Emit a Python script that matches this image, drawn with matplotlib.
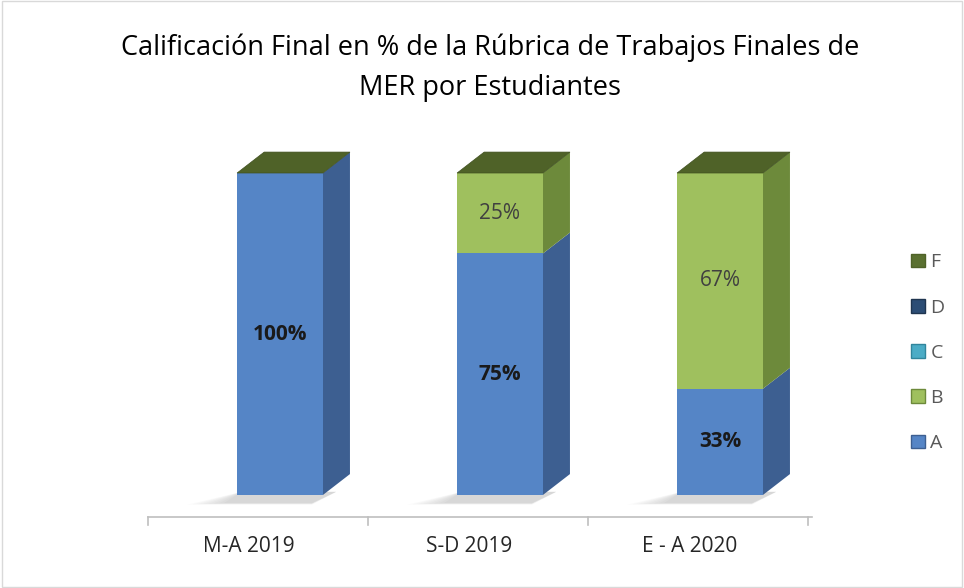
import numpy as np
import matplotlib.pyplot as plt
from matplotlib.patches import Polygon, Patch

plt.rcParams['font.family'] = ['Open Sans', 'DejaVu Sans']

# ========== 数据 ==========
categorias = ['M-A 2019', 'S-D 2019', 'E - A 2020']
series = ['A', 'B', 'C', 'D', 'F']
val_A = [100, 75, 33]
val_B = [0, 25, 67]
val_C = [0, 0, 0]
val_D = [0, 0, 0]
val_F = [0, 0, 0]
valores = [val_A, val_B, val_C, val_D, val_F]

# colores: cara frontal, cara lateral
frente = {'A': '#5585c6', 'B': '#9fc05e', 'C': '#4bacc6', 'D': '#2c4d75', 'F': '#5a7030'}
lado = {'A': '#3d5f91', 'B': '#6d8a3b', 'C': '#31859c', 'D': '#1f3550', 'F': '#4f6228'}
color_tapa = '#4f6228'

# ========== 几何 (3D falso) ==========
ancho = 0.39
dx, dy = 0.123, 6.5   # profundidad

fig = plt.figure(figsize=(9.64, 5.88), dpi=100)
ax = fig.add_axes([0, 0, 1, 1])
ax.set_xlim(-280 / 220, -280 / 220 + 964 / 220)
ax.set_ylim(-93 / 3.22, 100 + 173 / 3.22)
ax.axis('off')

x = np.arange(len(categorias))
base = np.zeros(len(categorias))

# sombra suave bajo cada barra
for xi in x:
    for k in range(8):
        s = 0.012 * k
        sombra = Polygon([(xi - ancho / 2 - 0.06 - s * 2, -2.5 - s * 6),
                          (xi + ancho / 2 - 0.05, -2.5 - s * 6),
                          (xi + ancho / 2 + dx * 0.5, 1),
                          (xi - ancho / 2 + 0.02, 1)],
                         closed=True, facecolor='#000000', alpha=0.018, lw=0, zorder=1)
        ax.add_patch(sombra)

for nombre, vals in zip(series, valores):
    vals = np.array(vals, dtype=float)
    ax.bar(x, vals, bottom=base, width=ancho, color=frente[nombre], lw=0, zorder=3)
    for xi, b, v in zip(x, base, vals):
        if v <= 0:
            continue
        xr = xi + ancho / 2
        ax.add_patch(Polygon([(xr, b), (xr + dx, b + dy), (xr + dx, b + v + dy), (xr, b + v)],
                             closed=True, facecolor=lado[nombre], lw=0, zorder=2))
    base = base + vals

# tapa superior (serie F)
for xi, t in zip(x, base):
    xl, xr = xi - ancho / 2, xi + ancho / 2
    ax.add_patch(Polygon([(xl, t), (xr, t), (xr + dx, t + dy), (xl + dx, t + dy)],
                         closed=True, facecolor=color_tapa, edgecolor='#3f4f1f', lw=0.5, zorder=4))

# etiquetas de datos
base = np.zeros(len(categorias))
for nombre, vals in zip(series, valores):
    for xi, b, v in zip(x, base, vals):
        if v <= 0:
            continue
        if nombre == 'A':
            ax.text(xi, b + v / 2, f'{v}%', ha='center', va='center', fontsize=15,
                    fontweight='bold', color='#1a1a1a', zorder=5)
        else:
            ax.text(xi, b + v / 2, f'{v}%', ha='center', va='center', fontsize=15,
                    color='#404040', zorder=5)
    base = base + np.array(vals)

# eje de categorías
y_eje = -6.8
ax.plot([-0.6, 2.42], [y_eje, y_eje], color='#bfbfbf', lw=1.2, zorder=1)
for t in np.arange(len(categorias) + 1) - 0.6:
    ax.plot([t, t], [y_eje, y_eje - 2.6], color='#bfbfbf', lw=1.2, zorder=1)
for xi, c in zip(x, categorias):
    ax.text(xi - 0.14, -16, c, ha='center', va='center', fontsize=15, color='#262626')

# título
fig.text(0.508, 0.918, 'Calificación Final en % de la Rúbrica de Trabajos Finales de',
         ha='center', va='center', fontsize=19.5, color='#000000')
fig.text(0.508, 0.85, 'MER por Estudiantes', ha='center', va='center', fontsize=19.5, color='#000000')

# leyenda
handles = [Patch(facecolor=frente[s], edgecolor=lado[s], lw=1) for s in series[::-1]]
fig.legend(handles, series[::-1], loc='center left', bbox_to_anchor=(0.937, 0.4),
           frameon=False, fontsize=14, labelcolor='#595959', handlelength=0.7,
           handleheight=0.7, handletextpad=0.3, labelspacing=1.4, borderaxespad=0)

# borde
fig.patches.append(plt.Rectangle((0.002, 0.002), 0.996, 0.996, transform=fig.transFigure,
                                 fill=False, edgecolor='#d9d9d9', lw=1))

fig.savefig('out.png', dpi=100)
